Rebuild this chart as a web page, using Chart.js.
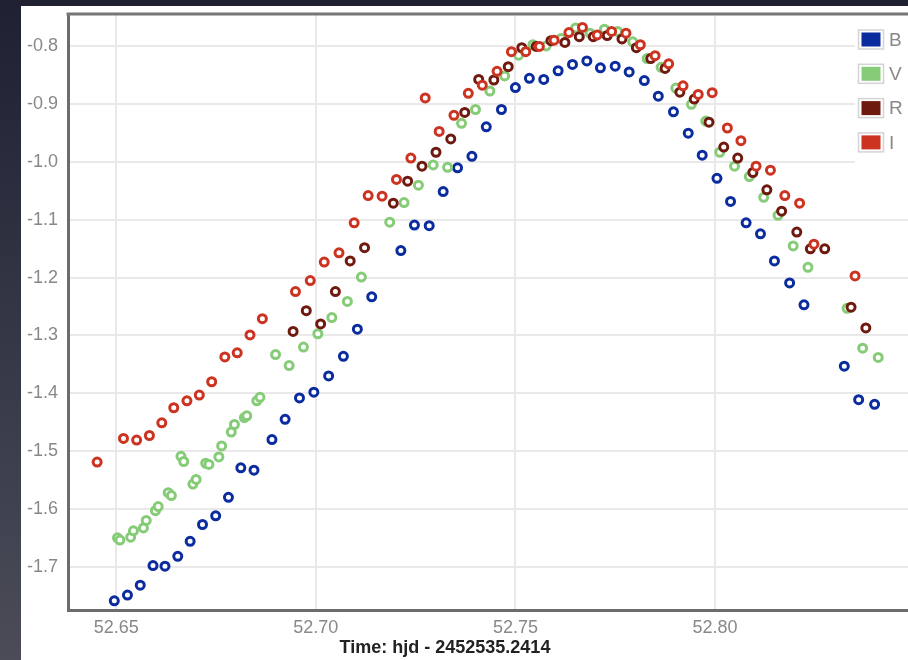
<!DOCTYPE html>
<html lang="en">
<head>
    <meta charset="UTF-8">
    <title>Light curve B V R I</title>
    <style>
        html, body {
            margin: 0;
            padding: 0;
            width: 908px;
            height: 660px;
            overflow: hidden;
        }
        body {
            background: linear-gradient(to bottom, #1f2133, #4b4c58);
            font-family: 'Liberation Sans', Arial, sans-serif;
        }
        #wrap {
            position: absolute;
            left: 21px;
            top: 6px;
            width: 960px;
            height: 654px;
            background: #fff;
        }
    </style>
</head>
<body>
    <div id="wrap">
        <canvas id="lightCurve" width="960" height="654"></canvas>
    </div>

    <script src="https://cdn.jsdelivr.net/npm/chart.js"></script>
    <script>
        // time axis: hjd - 2452535.2414
        const bTime = [52.6495, 52.6528, 52.6560, 52.6592, 52.6622, 52.6654, 52.6685, 52.6716, 52.6749, 52.6781,
            52.6812, 52.6845, 52.6890, 52.6923, 52.6959, 52.6995, 52.7032, 52.7069, 52.7104, 52.7140,
            52.7213, 52.7247, 52.7284, 52.7319, 52.7355, 52.7391, 52.7427, 52.7465, 52.7500, 52.7535,
            52.7571, 52.7607, 52.7643, 52.7679, 52.7713, 52.7750, 52.7785, 52.7823, 52.7858, 52.7896,
            52.7933, 52.7968, 52.8005, 52.8039, 52.8078, 52.8114, 52.8149, 52.8187, 52.8223, 52.8324,
            52.8360, 52.8400];
        const bMag = [-1.759, -1.749, -1.732, -1.698, -1.699, -1.682, -1.656, -1.627, -1.612, -1.580,
            -1.529, -1.533, -1.480, -1.445, -1.408, -1.398, -1.370, -1.336, -1.289, -1.233,
            -1.153, -1.109, -1.110, -1.051, -1.010, -0.990, -0.939, -0.909, -0.871, -0.855,
            -0.857, -0.842, -0.831, -0.825, -0.837, -0.834, -0.844, -0.859, -0.886, -0.913,
            -0.950, -0.988, -1.028, -1.068, -1.105, -1.124, -1.171, -1.209, -1.247, -1.353,
            -1.411, -1.419];

        const vTime = [52.6503, 52.6509, 52.6536, 52.6543, 52.6568, 52.6575, 52.6598, 52.6605, 52.6630, 52.6638,
            52.6662, 52.6669, 52.6692, 52.6700, 52.6724, 52.6732, 52.6757, 52.6764, 52.6788, 52.6796,
            52.6821, 52.6827, 52.6852, 52.6860, 52.6899, 52.6933, 52.6969, 52.7005, 52.7040, 52.7079,
            52.7114, 52.7185, 52.7221, 52.7257, 52.7294, 52.7330, 52.7365, 52.7400, 52.7436, 52.7473,
            52.7508, 52.7544, 52.7577, 52.7615, 52.7651, 52.7687, 52.7723, 52.7756, 52.7794, 52.7830,
            52.7865, 52.7902, 52.7941, 52.7977, 52.8012, 52.8049, 52.8086, 52.8122, 52.8158, 52.8196,
            52.8233, 52.8331, 52.8370, 52.8409];
        const vMag = [-1.650, -1.654, -1.649, -1.638, -1.633, -1.620, -1.603, -1.596, -1.572, -1.577,
            -1.509, -1.518, -1.557, -1.549, -1.521, -1.523, -1.510, -1.491, -1.467, -1.454,
            -1.442, -1.439, -1.413, -1.407, -1.333, -1.352, -1.320, -1.297, -1.269, -1.241,
            -1.199, -1.104, -1.070, -1.040, -1.005, -1.009, -0.933, -0.909, -0.877, -0.851,
            -0.815, -0.797, -0.799, -0.786, -0.768, -0.777, -0.770, -0.774, -0.792, -0.821,
            -0.836, -0.872, -0.900, -0.929, -0.983, -1.007, -1.025, -1.061, -1.092, -1.145,
            -1.182, -1.253, -1.322, -1.338];

        const rTime = [52.6943, 52.6976, 52.7012, 52.7049, 52.7086, 52.7122, 52.7194, 52.7230, 52.7266, 52.7301,
            52.7338, 52.7373, 52.7408, 52.7446, 52.7482, 52.7516, 52.7552, 52.7589, 52.7624, 52.7660,
            52.7695, 52.7730, 52.7767, 52.7803, 52.7839, 52.7875, 52.7912, 52.7948, 52.7985, 52.8022,
            52.8057, 52.8095, 52.8130, 52.8167, 52.8205, 52.8239, 52.8275, 52.8341, 52.8378];
        const rMag = [-1.293, -1.257, -1.280, -1.224, -1.171, -1.148, -1.071, -1.033, -1.007, -0.983,
            -0.960, -0.914, -0.857, -0.858, -0.835, -0.802, -0.800, -0.790, -0.793, -0.783,
            -0.783, -0.781, -0.787, -0.802, -0.821, -0.838, -0.879, -0.891, -0.931, -0.974,
            -0.993, -1.018, -1.048, -1.085, -1.121, -1.150, -1.150, -1.251, -1.287];

        const iTime = [52.6452, 52.6518, 52.6551, 52.6583, 52.6614, 52.6644, 52.6677, 52.6708, 52.6739, 52.6772,
            52.6803, 52.6835, 52.6866, 52.6949, 52.6986, 52.7021, 52.7058, 52.7096, 52.7131, 52.7166,
            52.7202, 52.7238, 52.7274, 52.7309, 52.7346, 52.7382, 52.7417, 52.7454, 52.7490, 52.7526,
            52.7560, 52.7597, 52.7634, 52.7668, 52.7705, 52.7741, 52.7777, 52.7813, 52.7850, 52.7884,
            52.7920, 52.7958, 52.7993, 52.8031, 52.8065, 52.8103, 52.8139, 52.8175, 52.8212, 52.8248,
            52.8351];
        const iMag = [-1.519, -1.478, -1.481, -1.473, -1.451, -1.425, -1.413, -1.403, -1.380, -1.337,
            -1.330, -1.299, -1.271, -1.224, -1.205, -1.173, -1.157, -1.105, -1.058, -1.059,
            -1.030, -0.993, -0.889, -0.947, -0.919, -0.881, -0.867, -0.843, -0.809, -0.809,
            -0.800, -0.789, -0.776, -0.767, -0.780, -0.774, -0.777, -0.797, -0.816, -0.830,
            -0.868, -0.883, -0.880, -0.941, -0.963, -1.007, -1.014, -1.058, -1.071, -1.142,
            -1.197];

        const bands = ['B', 'V', 'R', 'I'];
        const bandColors = ['#0b2c9e', '#86cc78', '#6e1a0f', '#cc3320'];
        const xTicks = [52.65, 52.70, 52.75, 52.80];
        const yTicks = [-0.8, -0.9, -1.0, -1.1, -1.2, -1.3, -1.4, -1.5, -1.6, -1.7];
        const xTitle = 'Time: hjd - 2452535.2414';

        const series = [[bTime, bMag], [vTime, vMag], [rTime, rMag], [iTime, iMag]];

        const tickFont = { family: "'Liberation Sans', Arial, sans-serif", size: 18 };
        const gridStyle = { color: '#e9e9e9', lineWidth: 2, drawTicks: false };
        const borderStyle = { display: true, color: '#6c6c6c', width: 3 };

        // top frame line, legend box and axis title
        const decor = {
            id: 'decor',
            afterDraw(chart) {
                const ctx = chart.ctx;
                const area = chart.chartArea;
                ctx.save();
                ctx.strokeStyle = '#777';
                ctx.lineWidth = 3;
                ctx.beginPath();
                ctx.moveTo(area.left - 1.5, area.top);
                ctx.lineTo(area.right, area.top);
                ctx.stroke();

                // legend
                ctx.fillStyle = '#fff';
                ctx.fillRect(834, area.top + 2, chart.width - 834, 147);
                bands.forEach((b, i) => {
                    const cy = 33.5 + i * 34.3;
                    ctx.fillStyle = '#fff';
                    ctx.strokeStyle = '#d4d4d4';
                    ctx.lineWidth = 1.5;
                    ctx.fillRect(837.5, cy - 9.5, 25, 19);
                    ctx.strokeRect(837.5, cy - 9.5, 25, 19);
                    ctx.fillStyle = bandColors[i];
                    ctx.fillRect(840.5, cy - 7, 19, 14);
                    ctx.fillStyle = '#888';
                    ctx.font = "19px 'Liberation Sans', Arial, sans-serif";
                    ctx.textAlign = 'left';
                    ctx.textBaseline = 'middle';
                    ctx.fillText(b, 868, cy + 1);
                });

                // x axis title
                ctx.fillStyle = '#222';
                ctx.font = "bold 18px 'Liberation Sans', Arial, sans-serif";
                ctx.textAlign = 'center';
                ctx.textBaseline = 'middle';
                ctx.fillText(xTitle, 424, 642);
                ctx.restore();
            }
        };

        new Chart(document.getElementById('lightCurve'), {
            type: 'scatter',
            data: {
                datasets: series.map((s, i) => ({
                    label: bands[i],
                    data: s[0].map((t, k) => ({ x: t, y: s[1][k] })),
                    borderColor: bandColors[i],
                    backgroundColor: '#fff',
                    pointRadius: 4,
                    pointBorderWidth: 3,
                    order: 3 - i
                }))
            },
            options: {
                responsive: false,
                animation: false,
                layout: { padding: { top: 8, left: 0, right: 0, bottom: 0 } },
                plugins: {
                    legend: { display: false },
                    tooltip: { enabled: false }
                },
                scales: {
                    x: {
                        type: 'linear',
                        min: 52.6379,
                        max: 52.8649,
                        afterBuildTicks: s => { s.ticks = xTicks.map(v => ({ value: v })); },
                        afterFit: s => {
                            s.height = 50;
                            s.paddingLeft = 0;
                            s.paddingRight = 0;
                        },
                        grid: gridStyle,
                        border: borderStyle,
                        ticks: {
                            font: tickFont,
                            color: '#888',
                            padding: 7,
                            maxRotation: 0,
                            callback: v => v.toFixed(2)
                        }
                    },
                    y: {
                        min: -1.7749,
                        max: -0.7438,
                        afterBuildTicks: s => { s.ticks = yTicks.map(v => ({ value: v })); },
                        afterFit: s => {
                            s.width = 47;
                            s.paddingTop = 0;
                            s.paddingBottom = 0;
                        },
                        grid: gridStyle,
                        border: borderStyle,
                        ticks: {
                            font: tickFont,
                            color: '#888',
                            padding: 10,
                            callback: v => v.toFixed(1)
                        }
                    }
                }
            },
            plugins: [decor]
        });
    </script>
</body>
</html>
